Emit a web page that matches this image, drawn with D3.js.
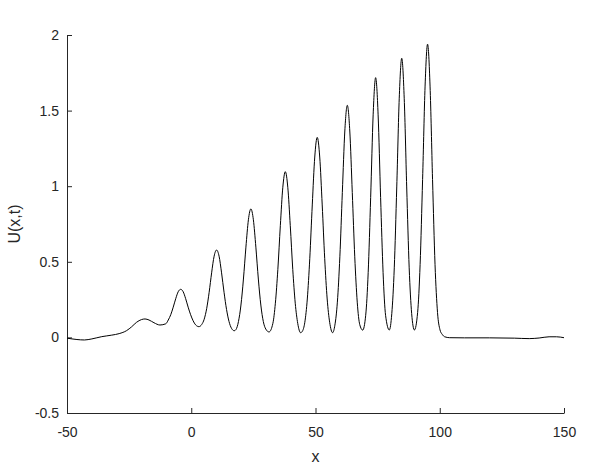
<!DOCTYPE html>
<html>
    <head>
        <meta charset="utf-8">
        <style>
            body{ margin: 0; background: #fff; }
            text{ font-family: "Liberation Sans", Arial, sans-serif; fill: #262626; }
        </style>
    </head>
    <body>
        <svg id="chart" width="616" height="465"></svg>
        <script src="https://d3js.org/d3.v7.min.js"></script>
        <script>
            // values: x positions and U(x,t)
            var xs = [-50, -46, -43, -40, -36, -32, -29, -26, -24, -22, -20, -18.6, -17, -15, -12.6,
                      -10.25, -9.25, -8.25, -7.25, -6.25, -5.25, -4.25, -3.25, -2.25, -1.25, -0.25, 0.75, 1.75, 3.1,
                      4.2, 5.2, 6.2, 7.2, 8.2, 9.2, 10.2, 11.2, 12.2, 13.2, 14.2, 15.2, 16.2, 17.3,
                      18, 19, 20, 21, 22, 23, 24, 25, 26, 27, 28, 29, 30, 31.3,
                      32.85, 33.85, 34.85, 35.85, 36.85, 37.85, 38.85, 39.85, 40.85, 41.85, 42.85, 44.0,
                      44.7, 45.7, 46.7, 47.7, 48.7, 49.7, 50.7, 51.7, 52.7, 53.7, 54.7, 55.7, 56.9,
                      57.8, 58.8, 59.8, 60.8, 61.8, 62.8, 63.8, 64.8, 65.8, 66.8, 67.8, 69.0,
                      70.2, 71.2, 72.2, 73.2, 74.2, 75.2, 76.2, 77.2, 78.2, 79.7,
                      80.7, 81.7, 82.7, 83.7, 84.7, 85.7, 86.7, 87.7, 88.7, 89.8,
                      91.1, 92.1, 93.1, 94.1, 95.1, 96.1, 97.1, 98.1, 99.1, 100.1, 101, 102, 104,
                      110, 120, 130, 136, 140, 144, 147, 150];
            var us = [-0.005, -0.014, -0.017, -0.01, 0.005, 0.015, 0.025, 0.045, 0.07, 0.1, 0.118, 0.122, 0.115, 0.097, 0.082,
                      0.09, 0.115, 0.15, 0.2, 0.256, 0.302, 0.318, 0.302, 0.256, 0.2, 0.15, 0.11, 0.083, 0.071,
                      0.085, 0.12, 0.19, 0.298, 0.427, 0.537, 0.578, 0.537, 0.427, 0.298, 0.185, 0.105, 0.06, 0.044,
                      0.052, 0.105, 0.214, 0.386, 0.597, 0.778, 0.85, 0.778, 0.597, 0.386, 0.214, 0.105, 0.055, 0.036,
                      0.093, 0.226, 0.45, 0.739, 0.993, 1.096, 0.993, 0.739, 0.45, 0.226, 0.093, 0.031,
                      0.04, 0.10, 0.254, 0.523, 0.876, 1.193, 1.323, 1.193, 0.876, 0.523, 0.254, 0.10, 0.031,
                      0.081, 0.233, 0.533, 0.959, 1.365, 1.535, 1.365, 0.959, 0.533, 0.233, 0.085, 0.048,
                      0.146, 0.428, 0.926, 1.472, 1.718, 1.472, 0.926, 0.428, 0.146, 0.049,
                      0.157, 0.46, 0.995, 1.582, 1.846, 1.582, 0.995, 0.46, 0.157, 0.049,
                      0.165, 0.483, 1.045, 1.662, 1.939, 1.662, 1.045, 0.483, 0.165, 0.05, 0.02, 0.004, -0.002,
                      -0.003, -0.003, -0.005, -0.008, -0.004, 0.004, 0.004, -0.002];
            var xTicks = [-50, 0, 50, 100, 150];
            var yTicks = [-0.5, 0, 0.5, 1, 1.5, 2];

            var mLeft = 67, mRight = 564, mTop = 35, mBottom = 413;
            var svg = d3.select("#chart");

            var x = d3.scaleLinear().domain([-50, 150]).range([mLeft, mRight]);
            var y = d3.scaleLinear().domain([-0.5, 2]).range([mBottom, mTop]);

            // axes, MATLAB style: ticks point inward, plain hyphen for minus
            var xAxis = svg.append("g")
                .attr("transform", "translate(0," + mBottom + ")")
                .call(d3.axisBottom(x).tickValues(xTicks).tickSizeInner(-5).tickSizeOuter(0).tickPadding(14)
                    .tickFormat(function(d){ return String(d); }));
            var yAxis = svg.append("g")
                .attr("transform", "translate(" + mLeft + ",0)")
                .call(d3.axisLeft(y).tickValues(yTicks).tickSizeInner(-5).tickSizeOuter(0).tickPadding(8)
                    .tickFormat(function(d){ return String(d); }));
            [xAxis, yAxis].forEach(function(a){
                a.selectAll("path, line").attr("stroke", "#262626");
                a.selectAll("text").attr("font-size", 14).attr("fill", "#262626")
                    .style("font-family", "'Liberation Sans', Arial, sans-serif");
            });

            var line = d3.line()
                .x(function(d){ return x(d[0]); })
                .y(function(d){ return y(d[1]); })
                .curve(d3.curveMonotoneX);
            svg.append("path")
                .datum(d3.zip(xs, us))
                .attr("d", line)
                .attr("fill", "none")
                .attr("stroke", "#000")
                .attr("stroke-width", 1);

            svg.append("text")
                .attr("x", (mLeft + mRight) / 2)
                .attr("y", 462)
                .attr("text-anchor", "middle")
                .attr("font-size", 16)
                .text("x");
            svg.append("text")
                .attr("transform", "translate(20," + ((mTop + mBottom) / 2) + ") rotate(-90)")
                .attr("text-anchor", "middle")
                .attr("font-size", 16)
                .text("U(x,t)");
        </script>
    </body>
</html>
